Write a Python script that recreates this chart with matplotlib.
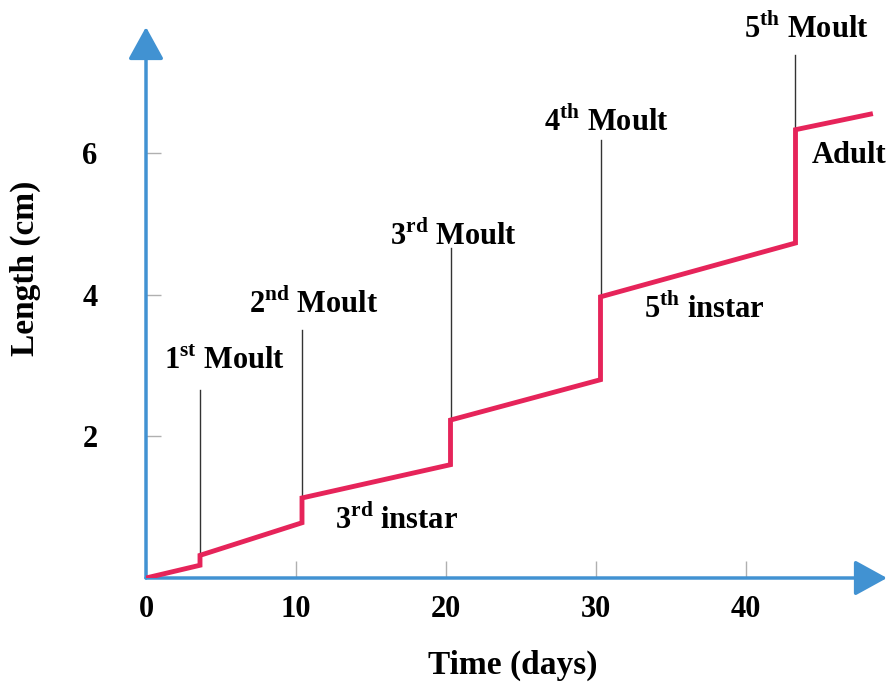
import matplotlib
matplotlib.use("Agg")
import matplotlib.pyplot as plt

plt.rcParams['font.family'] = ['Liberation Serif', 'DejaVu Serif']
plt.rcParams['font.weight'] = 'bold'
plt.rcParams['mathtext.fontset'] = 'custom'
plt.rcParams['mathtext.rm'] = 'Liberation Serif:bold'
plt.rcParams['mathtext.bf'] = 'Liberation Serif:bold'

# growth curve (days, cm)
moult_day = [3.6, 10.4, 20.3, 30.3, 43.3]
len_before = [0.18, 0.78, 1.6, 2.8, 4.73]
len_after = [0.32, 1.13, 2.23, 3.97, 6.33]
start = (0, 0)
end = (48.3, 6.55)

# thin marker lines above each moult
marker_top = [2.66, 3.5, 4.66, 6.19, 7.39]
moult_labels = [r'1$^{\mathrm{st}}$ Moult', r'2$^{\mathrm{nd}}$ Moult',
                r'3$^{\mathrm{rd}}$ Moult', r'4$^{\mathrm{th}}$ Moult',
                r'5$^{\mathrm{th}}$ Moult']
moult_label_pos = [(5.2, 3.05), (11.2, 3.86), (20.5, 4.82), (30.7, 6.44), (44.0, 7.74)]

stage_labels = [r'3$^{\mathrm{rd}}$ instar', r'5$^{\mathrm{th}}$ instar', 'Adult']
stage_label_pos = [(16.7, 0.82), (37.2, 3.79), (46.9, 5.97)]

xticks = [0, 10, 20, 30, 40]
yticks = [2, 4, 6]

blue = '#4192d2'
red = '#e6245a'
fs = 22

xs = [start[0]]
ys = [start[1]]
for d, a, b in zip(moult_day, len_before, len_after):
    xs += [d, d]
    ys += [a, b]
xs.append(end[0])
ys.append(end[1])

fig = plt.figure(figsize=(8.93, 6.89), dpi=100)
ax = fig.add_axes([146/893, 111/689, (887-146)/893, (578-27)/689])
ax.set_xlim(0, 49.4)
ax.set_ylim(0, 7.78)

for s in ax.spines.values():
    s.set_visible(False)

# axes drawn as arrows
for tip in [(1, 0), (0, 1)]:
    ax.annotate('', xy=tip, xytext=(0, 0), xycoords='axes fraction',
                arrowprops=dict(arrowstyle='-|>,head_length=1.0,head_width=0.55',
                                mutation_scale=20, color=blue, lw=2.5,
                                shrinkA=0, shrinkB=0), annotation_clip=False)

for d, a, top in zip(moult_day, len_after, marker_top):
    ax.plot([d, d], [a, top], color='#333333', lw=1.0, zorder=2)

ax.plot(xs, ys, color=red, lw=3.5, solid_joinstyle='miter', zorder=3)

for t, (x, y) in zip(moult_labels, moult_label_pos):
    ax.text(x, y, t, fontsize=fs, fontweight='bold', ha='center', va='center')
for t, (x, y) in zip(stage_labels, stage_label_pos):
    ax.text(x, y, t, fontsize=fs, fontweight='bold', ha='center', va='center')

ax.set_xticks(xticks)
ax.set_yticks(yticks)
ax.tick_params(axis='x', direction='in', length=12, width=1, color='#b0b0b0',
               pad=12, labelsize=fs)
ax.tick_params(axis='y', direction='in', length=11, width=1, color='#b0b0b0',
               pad=35, labelsize=fs)
for lab in ax.get_xticklabels() + ax.get_yticklabels():
    lab.set_fontweight('bold')

fig.text(25/893, 1 - 268/689, 'Length (cm)', rotation=90, fontsize=24,
         fontweight='bold', ha='center', va='center')
fig.text(513/893, 1 - 665/689, 'Time (days)', fontsize=24,
         fontweight='bold', ha='center', va='center')

fig.savefig('out.png', dpi=100)
